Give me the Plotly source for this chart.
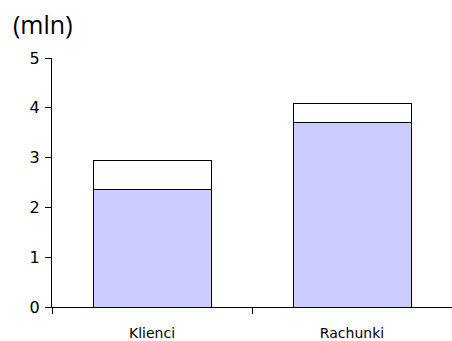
import plotly.graph_objects as go

categories = ["Klienci", "Rachunki"]
base_values = [2.36, 3.71]
top_values = [0.59, 0.38]
y_ticks = [0, 1, 2, 3, 4, 5]

font_family = "Verdana, DejaVu Sans, sans-serif"

fig = go.Figure()
fig.add_trace(go.Bar(
    x=categories, y=base_values,
    marker=dict(color="#CCCCFF", line=dict(color="black", width=1)),
    showlegend=False,
))
fig.add_trace(go.Bar(
    x=categories, y=top_values,
    marker=dict(color="white", line=dict(color="black", width=1)),
    showlegend=False,
))

fig.update_layout(
    barmode="stack",
    bargap=0.41,
    width=452, height=341,
    margin=dict(l=52, r=0, t=58, b=34),
    paper_bgcolor="white",
    plot_bgcolor="white",
    font=dict(family=font_family, size=12, color="black"),
    annotations=[dict(
        text="(mln)", x=0, y=1, xref="paper", yref="paper",
        xanchor="left", yanchor="top",
        xshift=-41, yshift=53,
        showarrow=False,
        font=dict(size=25, family="Open Sans, sans-serif"),
    )],
)
fig.update_xaxes(
    type="category",
    tickson="boundaries",
    ticks="outside", ticklen=6, tickcolor="black",
    showline=True, linecolor="black", linewidth=1,
    showgrid=False,
    ticklabelstandoff=13,
    tickfont=dict(size=14),
)
fig.update_yaxes(
    range=[0, 5],
    tickvals=y_ticks,
    ticks="outside", ticklen=6, tickcolor="black",
    showline=True, linecolor="black", linewidth=1,
    showgrid=False, zeroline=False,
    ticklabelstandoff=2,
    tickfont=dict(size=16),
)

fig.write_html("out.html")
